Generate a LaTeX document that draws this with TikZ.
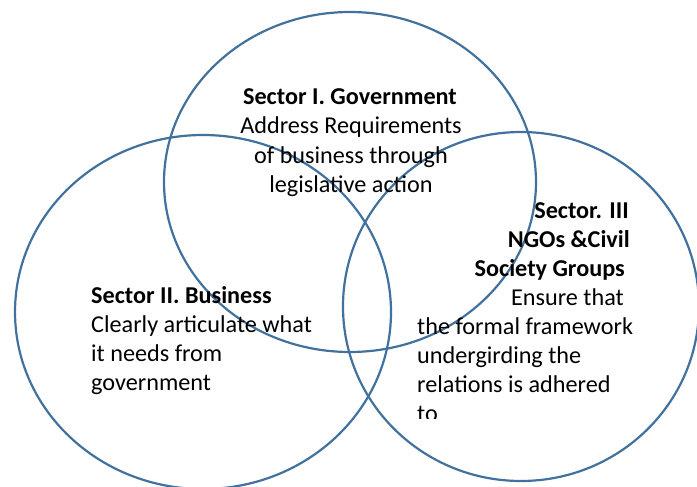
\documentclass[tikz,border=0pt]{standalone}
\usepackage{fontspec}
\setmainfont{Carlito}
\definecolor{ringblue}{HTML}{41719C}
\begin{document}
\begin{tikzpicture}[x=1pt,y=-1pt,
  ring/.style={draw=ringblue,line width=2.2pt},
  txt/.style={inner sep=0pt,font=\fontsize{24.2}{29}\selectfont},
  head/.style={txt,font=\fontsize{24.2}{29}\selectfont\bfseries}]
\useasboundingbox (0,0) rectangle (697,487);
% the three sectors
\draw[ring] (350,182) ellipse [x radius=186,y radius=170];
\draw[ring] (203,312) ellipse [x radius=188,y radius=177];
\draw[ring] (521,306.5) ellipse [x radius=178,y radius=174.5];
% Sector I
\node[head,anchor=base] (g1) at (350,105) {Sector I. Government};
\node[txt,anchor=base] (g2) at (351,134) {Address Requirements};
\node[txt,anchor=base] (g3) at (351,163) {of business through};
\node[txt,anchor=base] (g4) at (351,192) {legislative action};
% Sector II
\node[head,anchor=base west] (b1) at (91,303) {Sector II. Business};
\node[txt,anchor=base west] (b2) at (91,332) {Clearly articulate what};
\node[txt,anchor=base west] (b3) at (91,361) {it needs from};
\node[txt,anchor=base west] (b4) at (91,390) {government};
% Sector III
\node[head,anchor=base east] (n1) at (629,218) {Sector. III};
\node[head,anchor=base east] (n2) at (630,247) {NGOs \&Civil};
\node[head,anchor=base east] (n3) at (625,276) {Society Groups};
\node[txt,anchor=base east] (n4) at (624,305) {Ensure that};
\node[txt,anchor=base west] (n5) at (417,334) {the formal framework};
\node[txt,anchor=base west] (n6) at (417,363) {undergirding the};
\node[txt,anchor=base west] (n7) at (417,392) {relations is adhered};
\begin{scope}
  \clip (400,400) rectangle (697,418);
  \node[txt,anchor=base west] (n8) at (417,421) {to};
\end{scope}
\end{tikzpicture}
\end{document}
